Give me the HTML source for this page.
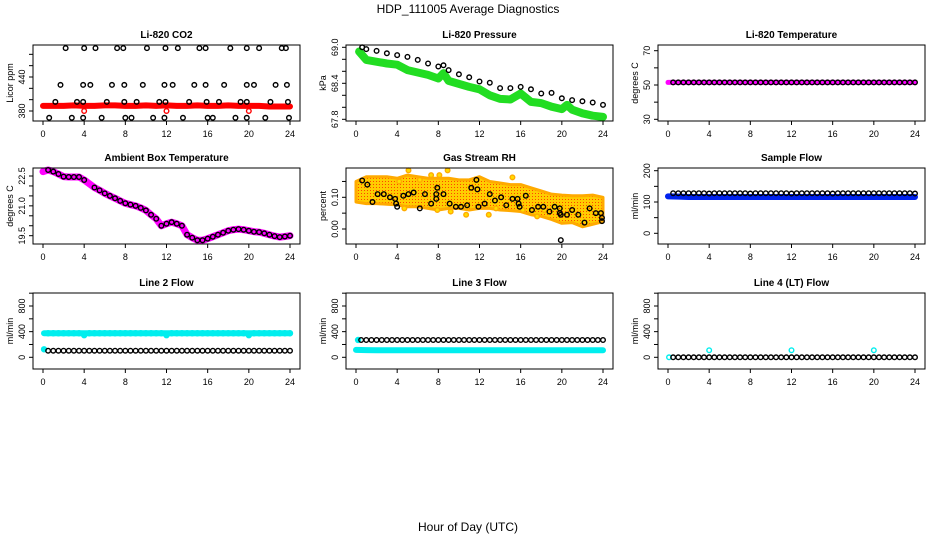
<!DOCTYPE html>
<html><head><meta charset="utf-8">
<style>
body{margin:0;background:#fff;}
svg{display:block;font-family:"Liberation Sans",Arial,sans-serif;}
</style></head>
<body>
<svg id="c" width="936" height="540" viewBox="0 0 936 540">
<text x="468" y="13" text-anchor="middle" font-size="12">HDP_111005  Average Diagnostics</text>
<text x="468" y="531" text-anchor="middle" font-size="12">Hour of Day (UTC)</text>
</svg>
<script>
// ---------- data ----------
const hours48 = [0.5,1,1.5,2,2.5,3,3.5,4,4.5,5,5.5,6,6.5,7,7.5,8,8.5,9,9.5,10,10.5,11,11.5,12,12.5,13,13.5,14,14.5,15,15.5,16,16.5,17,17.5,18,18.5,19,19.5,20,20.5,21,21.5,22,22.5,23,23.5,24];
const hours25 = [0,1,2,3,4,5,6,7,8,9,10,11,12,13,14,15,16,17,18,19,20,21,22,23,24];
const xTicks = [0,4,8,12,16,20,24];

// CO2
const co2TopHours = [2.2,4.0,5.1,7.2,7.8,10.1,11.9,13.1,15.2,15.8,18.2,19.8,21.0,23.2,23.6];
const co2Row2Hours = [1.7,3.9,4.6,6.7,7.9,9.7,11.8,12.6,14.7,15.8,17.6,19.8,20.5,22.6,23.7];
const co2Row3Hours = [1.2,3.3,3.9,6.2,7.9,9.1,11.3,11.9,14.2,15.9,17.1,19.2,19.8,22.1,23.8];
const co2Row4Hours = [0.6,2.8,3.9,5.7,8.0,8.6,10.7,11.8,13.6,16.0,16.5,18.7,19.8,21.6,23.9];
const co2RowValues = [491,426,396,368];
const co2Red = [389,389,389,390,389,389,390,390,389,389,390,389,390,389,389,390,389,389,390,389,389,389,388,388,388];
const co2RedOutHours = [4,12,20];
const co2RedOutValues = [380,380,380];

// Pressure
const presBlackHours = [0.6,1,2,3,4,5,6,7,8,8.5,9,10,11,12,13,14,15,16,17,18,19,20,21,22,23,24];
const presBlack = [69.0,68.97,68.94,68.9,68.87,68.84,68.79,68.73,68.68,68.7,68.62,68.55,68.5,68.43,68.41,68.32,68.32,68.34,68.3,68.23,68.24,68.15,68.12,68.1,68.08,68.04];
const presGreenHours = [0.3,1,3,4,5,7,8,8.5,9,11,12,13,14,15,16,17,18,19,20,20.5,21,22,23,24];
const presGreen = [68.93,68.79,68.73,68.71,68.62,68.54,68.48,68.57,68.44,68.34,68.3,68.2,68.14,68.13,68.23,68.09,68.07,68.01,67.97,68.04,67.96,67.9,67.86,67.84];

// Temperature
const tempBand = [51.5,51.5,51.5,51.5,51.5,51.5,51.5,51.5,51.5,51.5,51.5,51.5,51.5,51.5,51.5,51.5,51.5,51.5,51.5,51.5,51.5,51.5,51.5,51.5,51.5];
const tempBlack = [51.5,51.5,51.5,51.5,51.5,51.5,51.5,51.5,51.5,51.5,51.5,51.5,51.5,51.5,51.5,51.5,51.5,51.5,51.5,51.5,51.5,51.5,51.5,51.5,51.5,51.5,51.5,51.5,51.5,51.5,51.5,51.5,51.5,51.5,51.5,51.5,51.5,51.5,51.5,51.5,51.5,51.5,51.5,51.5,51.5,51.5,51.5,51.5];

// Ambient
const ambHours = [0,0.5,1,1.5,2,2.5,3,3.5,4,5,5.5,6,6.5,7,7.5,8,8.5,9,9.5,10,10.5,11,11.5,12,12.5,13,13.5,14,14.5,15,15.5,16,16.5,17,17.5,18,18.5,19,19.5,20,20.5,21,21.5,22,22.5,23,23.5,24];
const ambient = [22.72,22.8,22.72,22.6,22.47,22.45,22.45,22.45,22.3,21.92,21.78,21.63,21.5,21.38,21.25,21.13,21.06,21.0,20.9,20.77,20.55,20.35,20.0,20.1,20.18,20.1,20.0,19.55,19.4,19.27,19.27,19.35,19.45,19.55,19.65,19.75,19.8,19.83,19.8,19.75,19.7,19.68,19.62,19.55,19.48,19.43,19.46,19.5];

// RH
const rhHi = [0.15,0.165,0.165,0.165,0.16,0.17,0.165,0.16,0.16,0.16,0.155,0.155,0.165,0.15,0.145,0.14,0.14,0.13,0.12,0.11,0.107,0.105,0.105,0.107,0.10];
const rhLo = [0.085,0.08,0.08,0.078,0.076,0.07,0.07,0.065,0.06,0.065,0.065,0.06,0.065,0.065,0.06,0.058,0.055,0.045,0.04,0.03,0.018,0.02,0.007,0.015,0.023];
const rhBlackHours = [0.6,1.1,1.6,2.1,2.7,3.3,3.8,3.9,4.0,4.6,5.1,5.6,6.2,6.7,7.3,7.9,7.8,7.8,8.5,9.1,9.7,10.2,10.8,11.2,11.7,11.8,11.9,12.5,13,13.5,14.1,14.6,15.2,15.7,15.8,15.9,16.5,17.1,17.7,18.2,18.8,19.3,19.8,19.8,19.9,19.9,20.5,21,21.6,22.2,22.7,23.3,23.8,23.9,23.9];
const rhBlack = [0.153,0.14,0.085,0.11,0.11,0.10,0.095,0.08,0.07,0.105,0.11,0.115,0.065,0.11,0.08,0.13,0.11,0.095,0.11,0.08,0.07,0.07,0.075,0.13,0.155,0.125,0.07,0.08,0.11,0.09,0.10,0.075,0.095,0.095,0.08,0.07,0.105,0.06,0.07,0.07,0.055,0.07,0.065,0.05,0.045,-0.035,0.045,0.06,0.045,0.02,0.065,0.05,0.05,0.035,0.025];
const rhOutHours = [4.2,4.7,5.1,6.2,7.3,7.9,8.1,8.9,9.2,10.7,12.9,13.6,15.2,16.2,17.6,18.3];
const rhOut = [0.15,0.065,0.185,0.155,0.17,0.06,0.17,0.185,0.055,0.045,0.045,0.065,0.163,0.06,0.04,0.06];

// Sample flow
const sampleBand = [118,117,116,116,116,116,116,116,116,116,116,116,116,116,116,116,116,116,116,116,116,116,116,116,116];
const sampleBlack = [128,128,128,128,128,128,128,127,128,128,128,128,128,128,128,127,128,128,128,128,128,128,128,127,128,128,128,128,128,128,128,127,128,128,128,128,128,128,128,128,128,128,128,128,128,128,128,127];

// Line 2
const line2Cyan = [375,375,375,375,375,375,375,345,375,375,375,375,375,375,375,375,375,375,375,375,375,375,375,345,375,375,375,375,375,375,375,375,375,375,375,375,375,375,375,345,375,375,375,375,375,375,375,375];
const line2Black = [103,103,103,103,103,103,103,103,103,103,103,103,103,103,103,103,103,103,103,103,103,103,103,103,103,103,103,103,103,103,103,103,103,103,103,103,103,103,103,103,103,103,103,103,103,103,103,103];
const line2CyanLow = [125];
// Line 3
const line3CyanBand = [115,112,110,110,110,110,110,110,110,110,110,110,110,110,110,110,110,110,110,110,110,110,110,110,110];
const line3Black = [270,270,270,270,270,270,270,270,270,270,270,270,270,270,270,270,270,270,270,270,270,270,270,270,270,270,270,270,270,270,270,270,270,270,270,270,270,270,270,270,270,270,270,270,270,270,270,270];
const line3CyanHigh = [270];
// Line 4
const line4Black = [0,0,0,0,0,0,0,0,0,0,0,0,0,0,0,0,0,0,0,0,0,0,0,0,0,0,0,0,0,0,0,0,0,0,0,0,0,0,0,0,0,0,0,0,0,0,0,0];
const line4CyanHours = [0.1,4,12,20];
const line4Cyan = [0,110,110,110];

// ---------- drawing ----------
const svg = document.getElementById('c');
const NS = 'http://www.w3.org/2000/svg';
function mk(tag, attrs, parent){
  const e = document.createElementNS(NS, tag);
  for (const k in attrs) e.setAttribute(k, attrs[k]);
  (parent||svg).appendChild(e);
  return e;
}
const colL = [33, 346, 658], rowT = [45, 168, 293], W = 267, H = 76;

function panel(o){
  const g = mk('g', {});
  
  
  const L = colL[o.col], T = rowT[o.row], B = T + H;
  const x = h => L + 10 + h * 247 / 24;
  const y = v => o.y1 + (v - o.v1) * (o.y2 - o.y1) / (o.v2 - o.v1);
  const t = mk('text', {x: L + W/2, y: T - 7, 'text-anchor':'middle', 'font-size':'10', 'font-weight':'bold'}, g);
  t.textContent = o.title;
  
  
  const cg = mk('g', {}, g);
  
  
  o.draw(cg, x, y);
  const box = mk('rect', {x: L, y: T, width: W, height: H, fill: 'none', stroke: '#000', 'stroke-width': 1}, g);
  
  
  const xa = mk('g', {}, g);
  
  
  mk('line', {x1: x(0), x2: x(24), y1: B, y2: B, stroke:'#000'}, xa);
  xTicks.forEach(h => {
    mk('line', {x1: x(h), x2: x(h), y1: B, y2: B + 4, stroke: '#000'}, xa);
    const lt = mk('text', {x: x(h), y: B + 16, 'text-anchor': 'middle', 'font-size': '9'}, xa);
    lt.textContent = h;
  });
  const ya = mk('g', {}, g);
  
  
  const ty = o.ticks.map(y);
  mk('line', {x1: L, x2: L, y1: Math.min(...ty), y2: Math.max(...ty), stroke:'#000'}, ya);
  o.ticks.forEach(v => mk('line', {x1: L - 4, x2: L, y1: y(v), y2: y(v), stroke: '#000'}, ya));
  o.labels.forEach((lab, i) => {
    const yy = y(o.labelVals[i]);
    const lt = mk('text', {x: L - 8, y: yy, 'text-anchor': 'middle', 'font-size': '9', transform: `rotate(-90 ${L-8} ${yy})`}, ya);
    lt.textContent = lab;
  });
  const yt = mk('text', {x: L - 20, y: T + H/2, 'text-anchor': 'middle', 'font-size': '9', transform: `rotate(-90 ${L-20} ${T+H/2})`}, g);
  yt.textContent = o.ytitle;
  
  
}
function circles(g, xs, ys, x, y, color, name, r, fill){
  xs.forEach((h, i) => {
    const c = mk('circle', {cx: x(h), cy: y(ys[i]), r: r||2.3, fill: fill||'none', stroke: color, 'stroke-width': 1.4}, g);
    
    
  });
}
function band(g, xs, ys, x, y, color, w, name){
  const p = mk('polyline', {points: xs.map((h,i)=>x(h)+','+y(ys[i])).join(' '), fill:'none', stroke: color, 'stroke-width': w, 'stroke-linecap':'round', 'stroke-linejoin':'round'}, g);
  
  
}

panel({name:'co2-panel', col:0, row:0, title:'Li-820 CO2', ytitle:'Licor ppm', v1:380, y1:111, v2:440, y2:77,
  ticks:[380,400,420,440,460,480], labels:['380','440'], labelVals:[380,440],
  draw:(g,x,y)=>{
    band(g, hours25, co2Red, x, y, '#f00', 6, 'co2-red-band');
    circles(g, co2RedOutHours, co2RedOutValues, x, y, '#f00', 'co2-red-outlier');
    [co2TopHours, co2Row2Hours, co2Row3Hours, co2Row4Hours].forEach((hs, k) =>
      circles(g, hs, hs.map(()=>co2RowValues[k]), x, y, '#000', 'co2-point'));
  }});
panel({name:'pressure-panel', col:1, row:0, title:'Li-820 Pressure', ytitle:'kPa', v1:67.8, y1:119.3, v2:69.0, y2:47.3,
  ticks:[67.8,68.0,68.2,68.4,68.6,68.8,69.0], labels:['67.8','68.4','69.0'], labelVals:[67.8,68.4,69.0],
  draw:(g,x,y)=>{
    band(g, presGreenHours, presGreen, x, y, '#22dd22', 8, 'pressure-green-band');
    circles(g, presBlackHours, presBlack, x, y, '#000', 'pressure-point');
  }});
panel({name:'temperature-panel', col:2, row:0, title:'Li-820 Temperature', ytitle:'degrees C', v1:30, y1:119.3, v2:70, y2:50.7,
  ticks:[30,40,50,60,70], labels:['30','50','70'], labelVals:[30,50,70],
  draw:(g,x,y)=>{
    band(g, hours25, tempBand, x, y, '#ff00ff', 5, 'temperature-magenta-band');
    circles(g, hours48, tempBlack, x, y, '#000', 'temperature-point');
  }});
panel({name:'ambient-panel', col:0, row:1, title:'Ambient Box Temperature', ytitle:'degrees C', v1:19.5, y1:235.7, v2:22.5, y2:176,
  ticks:[19.5,20,20.5,21,21.5,22,22.5], labels:['19.5','21.0','22.5'], labelVals:[19.5,21,22.5],
  draw:(g,x,y)=>{
    band(g, ambHours, ambient, x, y, '#ff00ff', 7, 'ambient-magenta-band');
    circles(g, ambHours.slice(1), ambient.slice(1), x, y, '#000', 'ambient-point');
  }});
panel({name:'rh-panel', col:1, row:1, title:'Gas Stream RH', ytitle:'percent', v1:0, y1:229, v2:0.1, y2:197.3,
  ticks:[0,0.05,0.1,0.15], labels:['0.00','0.10'], labelVals:[0,0.1],
  draw:(g,x,y)=>{
    const pts = hours25.map((h,i)=>x(h)+','+y(rhHi[i])).concat(hours25.slice().reverse().map((h,i)=>x(h)+','+y(rhLo[24-i])));
    const defs = mk('defs', {}, g);
    const pat = mk('pattern', {id:'rhp', width:3, height:3, patternUnits:'userSpaceOnUse'}, defs);
    mk('rect', {width:3, height:3, fill:'#ffcc00'}, pat);
    mk('rect', {x:1, y:1, width:1, height:1, fill:'#ff4400'}, pat);
    const p = mk('polygon', {points: pts.join(' '), fill:'url(#rhp)', stroke:'#ffaa00', 'stroke-width':3, 'stroke-linejoin':'round'}, g);
    
    
    circles(g, rhOutHours, rhOut, x, y, '#ffaa00', 'rh-orange-point', 2.3, '#ffdd00');
    circles(g, rhBlackHours, rhBlack, x, y, '#000', 'rh-point');
  }});
panel({name:'sample-flow-panel', col:2, row:1, title:'Sample Flow', ytitle:'ml/min', v1:0, y1:233.3, v2:200, y2:170.7,
  ticks:[0,50,100,150,200], labels:['0','100','200'], labelVals:[0,100,200],
  draw:(g,x,y)=>{
    band(g, hours25, sampleBand, x, y, '#0022ee', 6, 'sample-blue-band');
    circles(g, hours48, sampleBlack, x, y, '#000', 'sample-point');
  }});
const lineAx = {v1:0, y1:357.3, v2:800, y2:306, ticks:[0,200,400,600,800,1000], labels:['0','400','800'], labelVals:[0,400,800], ytitle:'ml/min'};
panel(Object.assign({name:'line2-panel', col:0, row:2, title:'Line 2 Flow',
  draw:(g,x,y)=>{
    circles(g, hours48, line2Cyan, x, y, '#00eeee', 'line2-cyan-point', 2.5, '#00eeee');
    band(g, [0.1,24], [375,375], x, y, '#00eeee', 6, 'line2-cyan-band');
    circles(g, [0.1], line2CyanLow, x, y, '#00eeee', 'line2-cyan-low', 2.5, '#00eeee');
    circles(g, hours48, line2Black, x, y, '#000', 'line2-point');
  }}, lineAx));
panel(Object.assign({name:'line3-panel', col:1, row:2, title:'Line 3 Flow',
  draw:(g,x,y)=>{
    band(g, hours25, line3CyanBand, x, y, '#00eeee', 6, 'line3-cyan-band');
    circles(g, [0.2], line3CyanHigh, x, y, '#00eeee', 'line3-cyan-high', 2.5, '#00eeee');
    circles(g, hours48, line3Black, x, y, '#000', 'line3-point');
  }}, lineAx));
panel(Object.assign({name:'line4-panel', col:2, row:2, title:'Line 4 (LT) Flow',
  draw:(g,x,y)=>{
    circles(g, line4CyanHours, line4Cyan, x, y, '#00eeee', 'line4-cyan-point');
    circles(g, hours48, line4Black, x, y, '#000', 'line4-point');
  }}, lineAx));
</script>
</body></html>
